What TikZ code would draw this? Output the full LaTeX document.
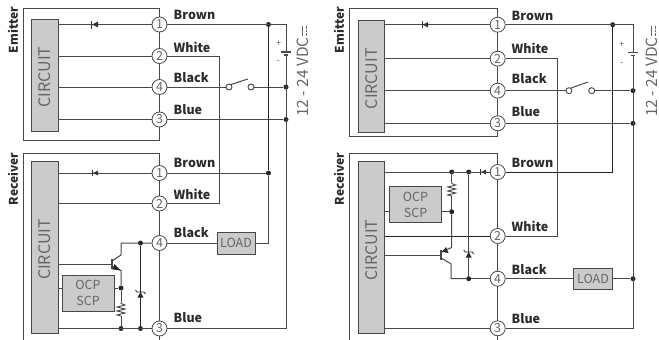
\documentclass[tikz,border=0pt]{standalone}
\usepackage{fontspec}
\setmainfont{Noto Sans CJK SC}
\definecolor{wire}{HTML}{484848}
\definecolor{boxfill}{HTML}{CBCBCB}
\definecolor{txtgray}{HTML}{666666}
\definecolor{lab}{HTML}{2B2B2B}
\tikzset{
 wireline/.style={draw=wire,line width=1pt},
 term/.style={circle,draw=wire,line width=0.8pt,fill=white,minimum size=15pt,inner sep=0pt,font=\fontsize{12.5}{12.5}\selectfont,text=txtgray},
 circuit/.style={draw=wire,line width=0.9pt,fill=boxfill,inner sep=0pt},
 circuittext/.style={rotate=90,font=\fontsize{16}{16}\selectfont,text=txtgray},
 gbox/.style={draw=wire,line width=1pt,fill=boxfill,inner sep=0pt,align=center,font=\fontsize{12.5}{15.5}\selectfont,text=txtgray},
 wirelabel/.style={anchor=west,font=\bfseries\fontsize{12.5}{12.5}\selectfont,text=lab,inner sep=0pt},
 sidelabel/.style={rotate=90,font=\bfseries\fontsize{12}{12}\selectfont,text=lab,inner sep=0pt},
 vdc/.style={rotate=90,anchor=west,font=\fontsize{15.5}{15.5}\selectfont,text=txtgray,inner sep=0pt},
 sign/.style={font=\fontsize{9}{9}\selectfont,text=txtgray,inner sep=0pt},
 junction/.style={circle,fill=black!85,inner sep=0pt,minimum size=5pt},
 pics/ldiode/.style={code={\fill[wire!70!black] (0,-3) -- (-6,0) -- (0,3) -- cycle; \draw[wire!70!black,line width=1pt] (-6.5,-4) -- (-6.5,4);}},
 pics/zenerup/.style={code={\fill[black!85] (-3,5.5) -- (3,5.5) -- (0,0) -- cycle; \draw[black!85,line width=0.8pt] (-5,-2) -- (-3.5,0) -- (3.5,0) -- (5,2);}},
 pics/resist/.style={code={\draw[wire,line width=0.9pt] (0,0) -- (0,1.5) -- (4,3) -- (-4,5) -- (4,7) -- (-4,9) -- (4,11) -- (-4,13) -- (0,14);}},
 pics/npnbar/.style={code={\draw[wire,line width=1.2pt] (0,-5) -- (0,5);}},
 pics/dcmark/.style={code={\draw[txtgray,line width=0.9pt] (-1,-1) -- (-1,-11); \draw[txtgray,line width=0.9pt,dash pattern=on 2.6pt off 1pt] (3,-1) -- (3,-11);}},
}
\begin{document}
\begin{tikzpicture}[x=1pt,y=-1pt]
\useasboundingbox (0,0) rectangle (659,340);
% ---------- left panel: emitter
\draw[wireline] (159.5,8) -- (23.5,8) -- (23.5,140) -- (159.5,140) -- cycle;
\draw[wireline] (23.5,340) -- (23.5,153.5) -- (159.5,153.5) -- (159.5,340);
\node[circuit,minimum width=26.5pt,minimum height=112pt] (ce) at (45,75) {};
\node[circuittext] at (45,77) {CIRCUIT};
\node[term] (a1) at (159.5,24.5) {1};
\node[term] (a2) at (159.5,56) {2};
\node[term] (a4) at (159.5,87) {4};
\node[term] (a3) at (159.5,119.5) {3};
% left panel: receiver
\node[circuit,minimum width=26.5pt,minimum height=171.5pt] (cr) at (45,247.5) {};
\node[circuittext] at (45,249.5) {CIRCUIT};
\node[term] (b1) at (159.5,173) {1};
\node[term] (b2) at (159.5,203.5) {2};
\node[term] (b4) at (159.5,243) {4};
\node[term] (b3) at (159.5,328.5) {3};
\node[gbox,minimum width=38pt,minimum height=22pt] (la) at (236,243) {LOAD};
\node[gbox,minimum width=52pt,minimum height=36pt] (oa) at (88,293) {OCP\\SCP};
% rails and coordinates
\coordinate (ar1) at (286,24.5);
\coordinate (aj1) at (268.5,24.5);
\coordinate (aw) at (219,56);
\coordinate (abt) at (286,52);
\coordinate (abb) at (286,55);
\node[circle,draw=wire,line width=0.9pt,minimum size=6pt,inner sep=0pt] (as1) at (229,87) {};
\node[circle,draw=wire,line width=0.9pt,minimum size=6pt,inner sep=0pt] (as2) at (251,87) {};
\node[junction] (aj4) at (286,87) {};
\node[junction] (aj3) at (286,119.5) {};
\node[junction] (ajt) at (268.5,24.5) {};
\node[junction] (ajb) at (268.5,173) {};
\coordinate (arb) at (286,328.5);
\draw[wireline] (ce.east |- a1) -- (a1);
\draw[wireline] (ce.east |- a2) -- (a2);
\draw[wireline] (ce.east |- a4) -- (a4);
\draw[wireline] (ce.east |- a3) -- (a3);
\draw[wireline] (a1) -- (ar1) -- (abt);
\draw[wireline,line width=1.1pt] (281,52) -- (291,52);
\draw[wireline,line width=1.1pt] (284,55) -- (288,55);
\draw[wireline] (abb) -- (arb) -- (b3);
\draw[wireline] (a2) -- (aw) |- (b2);
\draw[wireline] (a4) -- (as1);
\draw[wireline] (as2) -- (aj4);
\draw[wireline] (231,84.5) -- (248,79);
\draw[wireline] (a3) -- (aj3);
\draw[wireline,draw=black!85] (ajt) -- (ajb);
\draw[wireline] (cr.east |- b1) -- (b1);
\draw[wireline] (b1) -- (ajb);
\draw[wireline] (cr.east |- b2) -- (b2);
\draw[wireline] (ajb) |- (la.east);
\draw[wireline] (b4) -- (la.west);
\pic at (98,24.5) {ldiode};
\pic[scale=0.8] at (98,173) {ldiode};
% left transistor network
\node[junction] (aq1) at (140.5,243) {};
\node[junction] (aq2) at (140.5,328.5) {};
\node[junction] (aq3) at (121,328.5) {};
\node[junction] (aq4) at (121,288) {};
\draw[wireline] (b4) -- (aq1) -- (121,243) -- (121,255) -- (112,261);
\draw[wireline] (112,266) -- (121,270.5) -- (aq4);
\fill[black!85] (121,270.5) -- (114.5,264) -- (112.5,269.5) -- cycle;
\pic at (112,264) {npnbar};
\draw[wireline] (cr.east |- 0,264) -- (112,264);
\draw[wireline] (aq4) -- (oa.east |- aq4);
\draw[wireline] (oa.west |- aq4) -- (cr.east |- aq4);
\draw[wireline] (aq4) -- (121,302);
\pic at (121,302) {resist};
\draw[wireline] (121,316) -- (aq3);
\draw[wireline] (cr.east |- b3) -- (b3);
\draw[wireline,draw=black!85] (aq1) -- (aq2);
\pic at (140.5,292) {zenerup};
% labels left
\node[wirelabel] at (173.5,14.5) {Brown};
\node[wirelabel] at (173.5,47) {White};
\node[wirelabel] at (173.5,78) {Black};
\node[wirelabel] at (173.5,110) {Blue};
\node[wirelabel] at (173.5,163) {Brown};
\node[wirelabel] at (173.5,194) {White};
\node[wirelabel] at (173.5,233) {Black};
\node[wirelabel] at (173.5,317.5) {Blue};
\node[sidelabel] at (13,30) {Emitter};
\node[sidelabel] at (13,179) {Receiver};
\node[vdc] (va) at (303,117) {12 - 24 VDC};
\pic at (va.east) {dcmark};
\node[sign] at (278.5,44) {+};
\node[sign] at (278.5,62) {-};
% ---------- right panel: emitter
\draw[wireline] (497.7,8) -- (349,8) -- (349,136.7) -- (497.7,136.7) -- cycle;
\draw[wireline] (349,340) -- (349,153.7) -- (497.7,153.7) -- (497.7,340);
\node[circuit,minimum width=26.7pt,minimum height=112pt] (de) at (371.3,76.7) {};
\node[circuittext] at (371.3,78.7) {CIRCUIT};
\node[term] (c1) at (497.7,24.7) {1};
\node[term] (c2) at (497.7,58.7) {2};
\node[term] (c4) at (497.7,90.7) {4};
\node[term] (c3) at (497.7,123.3) {3};
% right panel: receiver
\node[circuit,minimum width=26.7pt,minimum height=171.6pt] (dr) at (371.3,247.5) {};
\node[circuittext] at (371.3,250) {CIRCUIT};
\node[term] (e1) at (497.7,172) {1};
\node[term] (e2) at (497.7,236) {2};
\node[term] (e4) at (497.7,278.7) {4};
\node[term] (e3) at (497.7,328.3) {3};
\node[gbox,minimum width=38.6pt,minimum height=21.4pt] (lb) at (593,278.7) {LOAD};
\node[gbox,minimum width=51.6pt,minimum height=36.3pt] (ob) at (415.5,204.8) {OCP\\SCP};
\coordinate (cr1) at (633,24.7);
\coordinate (cw) at (557,58.7);
\coordinate (cbt) at (633,52.3);
\coordinate (cbb) at (633,55.3);
\coordinate (crb) at (633,328.3);
\node[circle,draw=wire,line width=0.9pt,minimum size=6pt,inner sep=0pt] (cs1) at (569,90.7) {};
\node[circle,draw=wire,line width=0.9pt,minimum size=6pt,inner sep=0pt] (cs2) at (591.7,90.7) {};
\node[junction] (cj4) at (633,90.7) {};
\node[junction] (cj3) at (633,123.3) {};
\node[junction] (cjt) at (612.7,24.7) {};
\node[junction] (cjl) at (633,278.7) {};
\coordinate (cjb) at (612.7,172);
\draw[wireline] (de.east |- c1) -- (c1);
\draw[wireline] (de.east |- c2) -- (c2);
\draw[wireline] (de.east |- c4) -- (c4);
\draw[wireline] (de.east |- c3) -- (c3);
\draw[wireline] (c1) -- (cr1) -- (cbt);
\draw[wireline,line width=1.1pt] (628,52.3) -- (638,52.3);
\draw[wireline,line width=1.1pt] (631,55.3) -- (635,55.3);
\draw[wireline] (cbb) -- (crb) -- (e3);
\draw[wireline] (c2) -- (cw) |- (e2);
\draw[wireline] (c4) -- (cs1);
\draw[wireline] (cs2) -- (cj4);
\draw[wireline] (571,88) -- (588,82);
\draw[wireline] (c3) -- (cj3);
\draw[wireline,draw=black!85] (cjt) -- (cjb) -- (e1);
\draw[wireline,draw=black!85] (dr.east |- e2) -- (e2);
\draw[wireline] (e4) -- (lb.west);
\draw[wireline] (lb.east) -- (cjl);
\pic[scale=0.9] at (428,24.7) {ldiode};
\pic[scale=0.8] at (486,172) {ldiode};
\node[junction] (dq1) at (451.7,172) {};
\node[junction] (dq2) at (468.7,172) {};
\node[junction] (dq3) at (468.7,278.7) {};
\node[junction] (dq4) at (451.7,211.7) {};
\draw[wireline] (dr.east |- e1) -- (e1);
\draw[wireline] (dq1) -- (451.7,182);
\pic at (451.7,182) {resist};
\draw[wireline] (451.7,196) -- (dq4);
\draw[wireline] (dq4) -- (ob.east |- dq4);
\draw[wireline] (ob.west |- dq4) -- (dr.east |- dq4);
\draw[wireline] (dq4) -- (451.7,247.5) -- (441,252);
\fill[black!85] (442,252) -- (448.5,253) -- (446,247) -- cycle;
\draw[wireline] (441,258) -- (451.2,264) -- (451.2,278.7) -- (dq3);
\draw[wireline] (dq3) -- (e4);
\pic at (441,255) {npnbar};
\draw[wireline] (dr.east |- 0,255) -- (441,255);
\draw[wireline,draw=wire] (dq2) -- (dq3);
\pic at (468.7,252) {zenerup};
\draw[wireline] (dr.east |- e3) -- (e3);
% labels right
\node[wirelabel] at (511.5,16) {Brown};
\node[wirelabel] at (511.5,48) {White};
\node[wirelabel] at (511.5,79) {Black};
\node[wirelabel] at (511.5,112) {Blue};
\node[wirelabel] at (511.5,163) {Brown};
\node[wirelabel] at (511.5,226) {White};
\node[wirelabel] at (511.5,270) {Black};
\node[wirelabel] at (511.5,318.5) {Blue};
\node[sidelabel] at (339,30) {Emitter};
\node[sidelabel] at (339,179) {Receiver};
\node[vdc] (vb) at (652,117) {12 - 24 VDC};
\pic at (vb.east) {dcmark};
\node[sign] at (621.7,45) {+};
\node[sign] at (621.7,64) {-};
\end{tikzpicture}
\end{document}
